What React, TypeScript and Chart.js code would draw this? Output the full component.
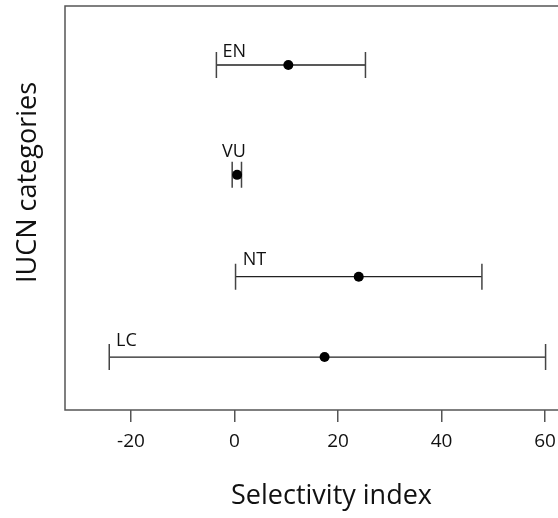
import React, { useEffect, useRef } from "react";
import { Chart, registerables } from "chart.js";

Chart.register(...registerables);

// ---- data ----
const categories = ["EN", "VU", "NT", "LC"];
const means = [10.4, 0.5, 24.0, 17.4];
const lower = [-3.5, -0.45, 0.2, -24.2];
const upper = [25.3, 1.35, 47.8, 60.1];
// vertical placement of each category row on a 0..1 value axis
const rowValue = [0.854, 0.582, 0.33, 0.131];
// label anchors (data units)
const labelX = [-2.3, -2.4, 1.6, -22.9];
const labelY = [0.8745, 0.627, 0.359, 0.158];
const xTicks = [-20, 0, 20, 40, 60];
const xMin = -32.75;
const xMax = 62.5;
const xTitle = "Selectivity index";
const yTitle = "IUCN categories";

const FONT = "'Open Sans', 'DejaVu Sans', sans-serif";

export default function App() {
  const ref = useRef<HTMLCanvasElement | null>(null);

  useEffect(() => {
    document.body.style.margin = "0";
    const canvas = ref.current;
    if (!canvas) return;

    const errorBars = {
      id: "errorBars",
      beforeDatasetsDraw(chart: any) {
        const { ctx, scales } = chart;
        const xs = scales.x;
        const ys = scales.y;
        ctx.save();
        for (let i = 0; i < categories.length; i++) {
          const y = ys.getPixelForValue(rowValue[i]);
          const x1 = xs.getPixelForValue(lower[i]);
          const x2 = xs.getPixelForValue(upper[i]);
          ctx.strokeStyle = "#222";
          ctx.lineWidth = 1.3;
          ctx.beginPath();
          ctx.moveTo(x1, y);
          ctx.lineTo(x2, y);
          ctx.stroke();
          ctx.strokeStyle = "#444";
          ctx.lineWidth = 1.5;
          ctx.beginPath();
          ctx.moveTo(x1, y - 13);
          ctx.lineTo(x1, y + 13);
          ctx.moveTo(x2, y - 13);
          ctx.lineTo(x2, y + 13);
          ctx.stroke();
        }
        ctx.restore();
      },
      afterDraw(chart: any) {
        const { ctx, scales, chartArea } = chart;
        const xs = scales.x;
        const ys = scales.y;
        ctx.save();
        // labels
        ctx.fillStyle = "#111";
        ctx.font = `18px ${FONT}`;
        ctx.textAlign = "left";
        ctx.textBaseline = "alphabetic";
        for (let i = 0; i < categories.length; i++) {
          ctx.fillText(
            categories[i],
            xs.getPixelForValue(labelX[i]),
            ys.getPixelForValue(labelY[i])
          );
        }
        // box (top, left, bottom)
        ctx.strokeStyle = "#555";
        ctx.lineWidth = 1.5;
        ctx.beginPath();
        ctx.moveTo(chartArea.right + 2, chartArea.top);
        ctx.lineTo(chartArea.left, chartArea.top);
        ctx.lineTo(chartArea.left, chartArea.bottom);
        ctx.lineTo(chartArea.right + 2, chartArea.bottom);
        ctx.stroke();
        // axis titles
        ctx.fillStyle = "#111";
        ctx.font = `27px ${FONT}`;
        ctx.textAlign = "center";
        ctx.textBaseline = "middle";
        ctx.fillText(xTitle, 331.5, 496);
        ctx.translate(28.5, 182.5);
        ctx.rotate(-Math.PI / 2);
        ctx.fillText(yTitle, 0, 0);
        ctx.restore();
      },
    };

    const chart = new Chart(canvas, {
      type: "scatter",
      data: {
        datasets: [
          {
            data: means.map((m, i) => ({ x: m, y: rowValue[i] })),
            pointRadius: 5,
            pointHoverRadius: 5,
            backgroundColor: "#000",
            borderColor: "#000",
            borderWidth: 0,
          },
        ],
      },
      options: {
        responsive: false,
        animation: false,
        events: [],
        layout: {
          autoPadding: false,
          padding: { top: 6, left: 65, right: 0, bottom: 0 },
        },
        plugins: {
          legend: { display: false },
          tooltip: { enabled: false },
        },
        scales: {
          x: {
            type: "linear",
            min: xMin,
            max: xMax,
            afterBuildTicks(scale: any) {
              scale.ticks = xTicks.map((v) => ({ value: v }));
            },
            afterFit(scale: any) {
              scale.height = 108;
              scale.paddingLeft = 0;
              scale.paddingRight = 0;
            },
            grid: {
              drawOnChartArea: false,
              drawTicks: true,
              tickLength: 12,
              color: "#555",
              lineWidth: 1.5,
            },
            border: { display: false },
            ticks: {
              padding: 8,
              color: "#111",
              font: { family: FONT, size: 19 },
              maxRotation: 0,
              autoSkip: false,
            },
          },
          y: {
            type: "linear",
            min: 0,
            max: 1,
            display: false,
          },
        },
      },
      plugins: [errorBars],
    });

    return () => chart.destroy();
  }, []);

  return (
    <div style={{ width: 558, height: 518 }}>
      <canvas ref={ref} width={558} height={518} style={{ display: "block" }} />
    </div>
  );
}
